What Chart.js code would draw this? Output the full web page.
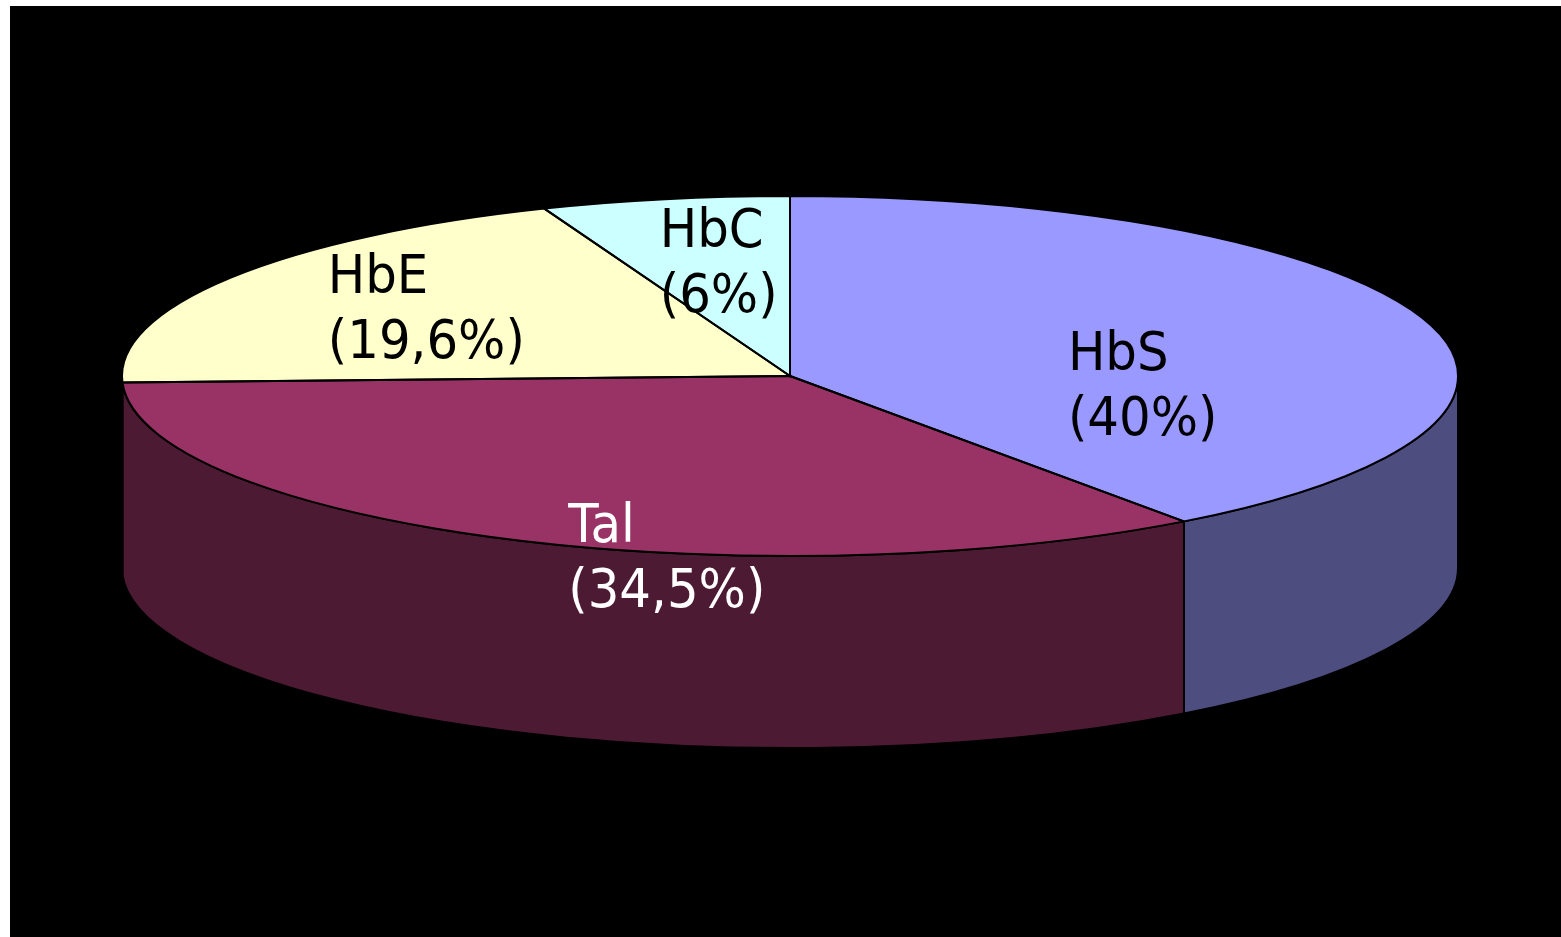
<!DOCTYPE html>
<html>
<head>
<meta charset="utf-8">
<script src="https://cdn.jsdelivr.net/npm/chart.js@4.4.1/dist/chart.umd.min.js"></script>
<style>
  html, body { margin: 0; padding: 0; background: #ffffff; width: 1561px; height: 937px; overflow: hidden; }
  #frame { position: absolute; left: 10px; top: 6px; width: 1551px; height: 931px; background: #000000; }
  canvas { display: block; }
</style>
</head>
<body>
<div id="frame"><canvas id="pie" width="1551" height="931"></canvas></div>
<script>
// Hemoglobin variant shares (%)
const categories = ['HbS', 'Tal', 'HbE', 'HbC'];
const shares = [40, 34.5, 19.6, 6];

// Slice colours: top face, side wall, label text
const topColors = ['#9999FF', '#993366', '#FFFFCC', '#CCFFFF'];
const sideColors = ['#4D4D80', '#4D1A33', '#808066', '#668080'];
const labelColors = ['#000000', '#FFFFFF', '#000000', '#000000'];

const fmt = v => String(v).replace('.', ',');

// Draws the pie as a tilted disc: side walls first, then the top face
// stretched horizontally into an ellipse, then outlines and labels.
const tiltedPie = {
  id: 'tiltedPie',
  geom(chart, opts) {
    const arc = chart.getDatasetMeta(0).data[0];
    const r = arc.outerRadius;
    return { cx: arc.x, cy: arc.y, r, rx: r * opts.stretch, ry: r, depth: r * opts.depth };
  },
  beforeDatasetsDraw(chart, args, opts) {
    const ctx = chart.ctx;
    const g = this.geom(chart, opts);
    const arcs = chart.getDatasetMeta(0).data;
    arcs.forEach((arc, i) => {
      const a = Math.max(arc.startAngle, 0);
      const b = Math.min(arc.endAngle, Math.PI);
      if (b - a < 1e-4) return;
      ctx.beginPath();
      ctx.ellipse(g.cx, g.cy, g.rx, g.ry, 0, a, b, false);
      ctx.ellipse(g.cx, g.cy + g.depth, g.rx, g.ry, 0, b, a, true);
      ctx.closePath();
      ctx.fillStyle = sideColors[i];
      ctx.fill();
      ctx.lineWidth = opts.lineWidth;
      ctx.strokeStyle = '#000000';
      ctx.stroke();
    });
    ctx.save();
    ctx.translate(g.cx, g.cy);
    ctx.scale(g.rx / g.r, g.ry / g.r);
    ctx.translate(-g.cx, -g.cy);
  },
  afterDatasetsDraw(chart, args, opts) {
    const ctx = chart.ctx;
    ctx.restore();
    const g = this.geom(chart, opts);
    const arcs = chart.getDatasetMeta(0).data;
    ctx.save();
    ctx.lineWidth = opts.lineWidth;
    ctx.strokeStyle = '#000000';
    arcs.forEach(arc => {
      ctx.beginPath();
      ctx.moveTo(g.cx, g.cy);
      ctx.ellipse(g.cx, g.cy, g.rx, g.ry, 0, arc.startAngle, arc.endAngle, false);
      ctx.closePath();
      ctx.stroke();
    });
    ctx.font = opts.font;
    ctx.textAlign = 'left';
    ctx.textBaseline = 'alphabetic';
    categories.forEach((name, i) => {
      const [fx, fy] = opts.labelAnchors[i];
      const x = g.cx + fx * g.rx;
      const y = g.cy + fy * g.ry;
      ctx.fillStyle = labelColors[i];
      [name, '(' + fmt(shares[i]) + '%)'].forEach((line, k) => {
        ctx.save();
        ctx.translate(x, y + k * opts.lineHeight);
        ctx.scale(opts.textScaleX, 1);
        ctx.fillText(line, 0, 0);
        ctx.restore();
      });
    });
    ctx.restore();
  }
};

new Chart(document.getElementById('pie'), {
  type: 'pie',
  data: {
    labels: categories,
    datasets: [{
      data: shares,
      backgroundColor: topColors,
      borderWidth: 0,
      offset: 0,
      hoverOffset: 0,
      clip: false
    }]
  },
  options: {
    responsive: false,
    animation: false,
    events: [],
    layout: { padding: { left: 600, right: 591, top: 190, bottom: 381 } },
    plugins: {
      legend: { display: false },
      tooltip: { enabled: false },
      tiltedPie: {
        stretch: 668 / 180,
        depth: 192 / 180,
        lineWidth: 2,
        font: '53px "DejaVu Sans"',
        textScaleX: 0.94,
        lineHeight: 65,
        labelAnchors: [[0.416, -0.033], [-0.332, 0.922], [-0.692, -0.461], [-0.195, -0.717]]
      }
    }
  },
  plugins: [tiltedPie]
});
</script>
</body>
</html>
